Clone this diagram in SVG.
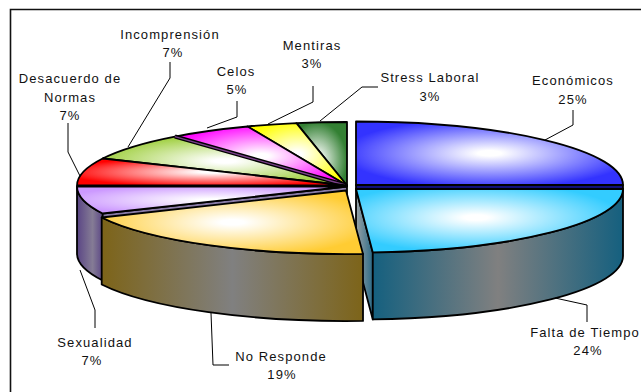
<svg xmlns="http://www.w3.org/2000/svg" width="641" height="392" viewBox="0 0 641 392">
  <style>
    .lbl { font-family: "Liberation Sans", Arial, sans-serif; font-size: 13px; letter-spacing: 1.1px; fill: #111; text-anchor: middle; }
    .lead { fill: none; stroke: #000; stroke-width: 1; }
    .edge { stroke: #000; stroke-width: 1.8; stroke-linejoin: round; }
    .frame { fill: none; stroke: #111; stroke-width: 1.6; }
  </style>
  <defs>
    <radialGradient id="gEco" cx="0.5" cy="0.5" r="0.55"><stop offset="0" stop-color="#fff"/><stop offset="0.08" stop-color="#fff"/><stop offset="1" stop-color="#3333ff"/></radialGradient>
    <radialGradient id="gFalta" cx="0.45" cy="0.45" r="0.55"><stop offset="0" stop-color="#fff"/><stop offset="0.08" stop-color="#fff"/><stop offset="1" stop-color="#33ccff"/></radialGradient>
    <radialGradient id="gNoR" cx="0.5" cy="0.5" r="0.55"><stop offset="0" stop-color="#fff"/><stop offset="0.08" stop-color="#fff"/><stop offset="1" stop-color="#ffcc33"/></radialGradient>
    <radialGradient id="gSex" cx="0.5" cy="0.5" r="0.55"><stop offset="0" stop-color="#fff"/><stop offset="0.08" stop-color="#fff"/><stop offset="1" stop-color="#cc99ff"/></radialGradient>
    <radialGradient id="gDes" cx="0.5" cy="0.5" r="0.55"><stop offset="0" stop-color="#fff"/><stop offset="0.08" stop-color="#fff"/><stop offset="1" stop-color="#ff0000"/></radialGradient>
    <radialGradient id="gInc" cx="0.5" cy="0.5" r="0.55"><stop offset="0" stop-color="#fff"/><stop offset="0.08" stop-color="#fff"/><stop offset="1" stop-color="#99cc33"/></radialGradient>
    <radialGradient id="gCel" cx="0.5" cy="0.5" r="0.55"><stop offset="0" stop-color="#fff"/><stop offset="0.08" stop-color="#fff"/><stop offset="1" stop-color="#ff00ff"/></radialGradient>
    <radialGradient id="gMen" cx="0.5" cy="0.5" r="0.55"><stop offset="0" stop-color="#fff"/><stop offset="0.08" stop-color="#fff"/><stop offset="1" stop-color="#ffff00"/></radialGradient>
    <radialGradient id="gStr" cx="0.4" cy="0.6" r="0.6"><stop offset="0" stop-color="#fff"/><stop offset="0.1" stop-color="#fff"/><stop offset="1" stop-color="#338033"/></radialGradient>
    <linearGradient id="sFalta" gradientUnits="userSpaceOnUse" x1="373" y1="0" x2="623" y2="0"><stop offset="0" stop-color="#15607f"/><stop offset="0.5" stop-color="#808080"/><stop offset="1" stop-color="#15607f"/></linearGradient>
    <linearGradient id="cFalta" gradientUnits="userSpaceOnUse" x1="356" y1="0" x2="373" y2="0"><stop offset="0" stop-color="#9aa2a6"/><stop offset="1" stop-color="#2a6a86"/></linearGradient>
    <linearGradient id="sNoR" gradientUnits="userSpaceOnUse" x1="102" y1="0" x2="363" y2="0"><stop offset="0" stop-color="#7d6419"/><stop offset="0.5" stop-color="#808080"/><stop offset="1" stop-color="#7d6419"/></linearGradient>
    <linearGradient id="sSex" gradientUnits="userSpaceOnUse" x1="77" y1="0" x2="103" y2="0"><stop offset="0" stop-color="#5a4585"/><stop offset="0.6" stop-color="#857c95"/><stop offset="1" stop-color="#5a4585"/></linearGradient>
  </defs>

  <!-- chart area border -->
  <path class="frame" d="M10.5,392 V9.5 H641"/>

  <!-- back slices -->
  <g id="stress-laboral">
    <path class="edge" fill="url(#gStr)" d="M347,185.5 L347,122 A270,63.5 0 0 0 296.4,123.1 Z"/>
  </g>
  <g id="mentiras">
    <path class="edge" fill="url(#gMen)" d="M347,185.5 L296.4,123.1 A270,63.5 0 0 0 247.6,126.5 Z"/>
  </g>
  <g id="celos">
    <path class="edge" fill="url(#gCel)" d="M347,185.5 L247.6,126.5 A270,63.5 0 0 0 174.9,136.6 Z"/>
  </g>
  <g id="incomprension">
    <path class="edge" fill="url(#gInc)" d="M347,185.5 L174.9,136.6 A270,63.5 0 0 0 102.7,158.5 Z"/>
    <!-- thin cut face between this slice and the next one -->
    <path fill="none" stroke="#000" stroke-width="4.2" d="M345,185 L174.9,136.6"/>
    <path fill="none" stroke="#7a3f8a" stroke-width="1.4" d="M345,185 L174.9,136.6"/>
  </g>
  <g id="desacuerdo">
    <path class="edge" fill="url(#gDes)" d="M347,185.5 L102.7,158.5 A270,63.5 0 0 0 77,185.5 Z"/>
  </g>

  <!-- exploded slice, upper right -->
  <g id="economicos">
    <path class="edge" fill="#10107a" d="M356,185 H623 V189 H356 Z"/>
    <path class="edge" fill="url(#gEco)" d="M356,185 L623,185 A267,63.5 0 0 0 356,121.5 Z"/>
  </g>

  <!-- front slices -->
  <g id="falta-de-tiempo-cut">
    <path class="edge" fill="url(#cFalta)" d="M356,189 L372.8,252.4 L372.8,319.4 L356,256 Z"/>
  </g>
  <g id="sexualidad">
    <path class="edge" fill="url(#sSex)" d="M77,186.5 A270,63.5 0 0 0 102.7,213.5 L102.7,280.5 A270,63.5 0 0 1 77,253.5 Z"/>
    <path class="edge" fill="#8a7ca8" d="M347,186.5 L102.7,213.5 L102.7,280.5 L347,253.5 Z"/>
    <path class="edge" fill="url(#gSex)" d="M347,186.5 L77,186.5 A270,63.5 0 0 0 102.7,213.5 Z"/>
  </g>
  <g id="no-responde">
    <path class="edge" fill="url(#sNoR)" d="M101.7,217.5 A270,63.5 0 0 0 363,253.9 L363,320.9 A270,63.5 0 0 1 101.7,284.5 Z"/>
    <path class="edge" fill="url(#gNoR)" d="M346,190.5 L101.7,217.5 A270,63.5 0 0 0 363,253.9 Z"/>
  </g>
  <g id="falta-de-tiempo">
    <path class="edge" fill="url(#sFalta)" d="M372.8,252.4 A267,63.5 0 0 0 623,189 L623,256 A267,63.5 0 0 1 372.8,319.4 Z"/>
    <path class="edge" fill="url(#gFalta)" d="M356,189 L372.8,252.4 A267,63.5 0 0 0 623,189 Z"/>
  </g>

  <!-- leader lines -->
  <g id="connectors">
    <path class="lead" d="M68,123 V152 L80,176"/>
    <path class="lead" d="M170,62 V78 L128,147"/>
    <path class="lead" d="M237,101 V117 L207,128"/>
    <path class="lead" d="M313,86 V102 L268,124"/>
    <path class="lead" d="M378,87 H362 L320,121"/>
    <path class="lead" d="M573,110 V125 L545,140"/>
    <path class="lead" d="M587,322 V305 L555,298"/>
    <path class="lead" d="M211,313 L213,365 H229"/>
    <path class="lead" d="M80,270 L95,310 V328"/>
  </g>

  <!-- labels -->
  <g id="labels">
    <text class="lbl" x="70" y="83">Desacuerdo de</text>
    <text class="lbl" x="70" y="101.5">Normas</text>
    <text class="lbl" x="70" y="119.5">7%</text>
    <text class="lbl" x="170" y="39">Incomprensión</text>
    <text class="lbl" x="173" y="57.3">7%</text>
    <text class="lbl" x="236" y="75.7">Celos</text>
    <text class="lbl" x="237" y="94.3">5%</text>
    <text class="lbl" x="312" y="50">Mentiras</text>
    <text class="lbl" x="312" y="68.3">3%</text>
    <text class="lbl" x="430" y="81.7">Stress Laboral</text>
    <text class="lbl" x="430" y="101">3%</text>
    <text class="lbl" x="573" y="85">Económicos</text>
    <text class="lbl" x="573" y="104.3">25%</text>
    <text class="lbl" x="585" y="337">Falta de Tiempo</text>
    <text class="lbl" x="588" y="354.5">24%</text>
    <text class="lbl" x="281" y="361">No Responde</text>
    <text class="lbl" x="282" y="379.3">19%</text>
    <text class="lbl" x="95" y="347">Sexualidad</text>
    <text class="lbl" x="92" y="365">7%</text>
  </g>
</svg>
